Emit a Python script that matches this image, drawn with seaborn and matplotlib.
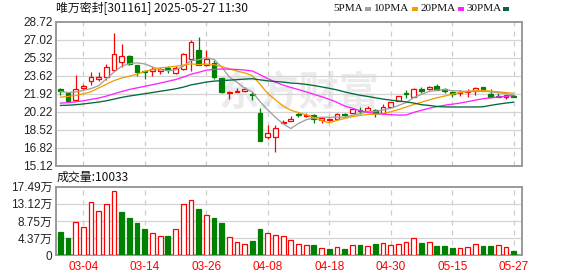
import matplotlib
matplotlib.use("Agg")
import matplotlib.pyplot as plt
import seaborn as sns
import numpy as np
import pandas as pd
from matplotlib.patches import Rectangle

sns.set_theme(style="white")
plt.rcParams['font.family'] = ['Liberation Sans', 'Noto Sans CJK SC', 'DejaVu Sans']

# ---------------- data ----------------
opens = [22.40, 21.93, 21.30, 22.46, 23.15, 23.34, 23.48, 24.12, 24.94, 25.43,
         24.59, 24.05, 24.05, 24.05, 24.34, 23.90, 24.28, 25.15, 26.06, 24.59,
         24.78, 23.37, 22.02, 22.08, 22.18, 21.84, 20.05, 17.80, 17.80, 19.11,
         19.36, 19.96, 19.80, 19.89, 19.42, 19.42, 19.52, 19.96, 20.05, 20.36,
         20.30, 20.36, 20.05, 20.67, 21.21, 21.99, 21.61, 22.31, 22.36, 22.68,
         22.31, 22.05, 21.99, 22.05, 22.12, 22.52, 21.87, 21.68, 21.56, 21.74]
highs = [22.46, 22.03, 23.65, 22.85, 23.95, 23.95, 24.75, 27.62, 26.65, 25.53,
         24.65, 24.12, 24.43, 24.31, 24.49, 24.56, 25.74, 27.03, 27.25, 26.00,
         25.12, 23.43, 22.21, 22.46, 22.50, 22.08, 20.52, 18.96, 18.96, 19.42,
         19.80, 20.20, 20.05, 19.96, 19.68, 19.62, 20.11, 20.11, 20.43, 20.61,
         20.74, 20.43, 20.93, 21.14, 21.68, 22.24, 22.46, 22.55, 22.62, 22.80,
         22.43, 22.12, 22.24, 22.31, 22.55, 22.52, 22.33, 21.93, 21.77, 21.80]
lows = [21.82, 21.18, 21.28, 22.28, 22.75, 23.10, 23.18, 24.03, 24.43, 24.62,
        23.58, 23.27, 23.62, 23.81, 23.90, 23.81, 24.18, 24.05, 24.59, 24.49,
        23.34, 22.02, 21.37, 22.08, 22.05, 21.30, 17.48, 17.61, 16.35, 19.11,
        19.36, 19.73, 19.68, 19.11, 19.17, 19.35, 19.42, 19.68, 20.05, 19.99,
        20.20, 19.73, 19.99, 20.67, 21.21, 21.52, 21.56, 21.99, 22.24, 22.28,
        21.99, 21.61, 21.68, 21.61, 21.80, 22.18, 21.61, 21.56, 21.43, 21.58]
closes = [22.15, 21.24, 22.40, 22.65, 23.53, 23.53, 24.47, 25.62, 25.43, 24.68,
          23.96, 23.93, 24.21, 24.21, 24.12, 24.37, 25.62, 26.84, 24.65, 25.15,
          23.49, 22.08, 22.08, 22.15, 22.33, 21.76, 17.48, 18.17, 18.64, 19.24,
          19.55, 19.89, 19.92, 19.49, 19.58, 19.52, 19.96, 19.89, 20.43, 20.30,
          20.52, 20.05, 20.61, 21.14, 21.68, 21.87, 22.40, 22.15, 22.50, 22.28,
          22.18, 21.87, 22.05, 22.18, 22.43, 22.18, 21.61, 21.61, 21.77, 21.61]
# volume in 万 (10k)
volumes = [5.89, 4.35, 8.37, 7.09, 13.5, 11.4, 13.0, 16.4, 11.0, 9.47,
           8.19, 6.66, 5.81, 4.87, 4.87, 6.58, 13.2, 14.0, 11.8, 10.2,
           9.47, 8.19, 4.79, 3.51, 2.78, 3.58, 6.66, 5.58, 5.30, 4.82,
           3.88, 2.87, 2.60, 2.60, 1.78, 1.60, 2.03, 1.60, 2.60, 2.60,
           2.28, 2.87, 3.04, 2.60, 2.87, 3.37, 4.30, 3.10, 3.37, 2.36,
           2.36, 1.85, 1.78, 2.03, 2.79, 2.36, 2.36, 2.60, 2.10, 1.0033]

# moving-average values before a full window is visible
ma5_head = [22.12, 22.02, 22.08, 22.22]
ma10_head = [21.58, 21.65, 21.75, 21.90, 22.10, 22.45, 22.80, 23.15, 23.40]
ma20_head = [21.02, 21.06, 21.14, 21.24, 21.37, 21.50, 21.68, 21.90, 22.12, 22.31,
             22.46, 22.61, 22.76, 22.92, 23.08, 23.25, 23.47, 23.75, 23.93]
ma30_head = [20.80, 20.82, 20.87, 20.94, 21.03, 21.12, 21.24, 21.40, 21.56, 21.69,
             21.80, 21.91, 22.02, 22.14, 22.25, 22.37, 22.53, 22.74, 22.87, 23.01,
             23.10, 23.15, 23.19, 23.24, 23.29, 23.33, 23.22, 23.13, 23.06]

date_tick_idx = [3, 11, 19, 27, 35, 43, 51, 59]
date_tick_labels = ["03-04", "03-14", "03-26", "04-08", "04-18", "04-30", "05-15", "05-27"]
price_ticks = [15.12, 16.82, 18.52, 20.22, 21.92, 23.62, 25.32, 27.02, 28.72]
vol_ticks = [0, 4.3725, 8.745, 13.1175, 17.49]
vol_tick_labels = ["0", "4.37万", "8.75万", "13.12万", "17.49万"]

title_text = "唯万密封[301161] 2025-05-27 11:30"
vol_title = "成交量:10033"
legend_names = ["5PMA", "10PMA", "20PMA", "30PMA"]
ma_windows = [5, 10, 20, 30]

# ---------------- style ----------------
RED = "#ff0000"
GREEN = "#008000"
MA_COLORS = ["#a0a0a0", "#f0a000", "#ff22ff", "#006a3a"]
GRID = "#d4d4d4"
SPINE = "#9a9a9a"

W, H = 578, 276
fig = plt.figure(figsize=(W / 100, H / 100), dpi=100)
fig.patch.set_facecolor("white")


def rect(l, t, r, b):
    return [l / W, 1 - b / H, (r - l) / W, (b - t) / H]


axp = fig.add_axes(rect(56, 21.7, 522, 165.5))
axv = fig.add_axes(rect(56, 186.7, 522, 255.3))

n = len(closes)
x = np.arange(n)
o = np.array(opens)
c = np.array(closes)
hi = np.array(highs)
lo = np.array(lows)
vol = np.array(volumes)

up = c >= o
col = np.where(up, RED, GREEN)
face = np.where(up, "white", GREEN)

# moving averages
cs = pd.Series(closes)
heads = [ma5_head, ma10_head, ma20_head, ma30_head]
for win, head, mc in zip(ma_windows, heads, MA_COLORS):
    m = cs.rolling(win).mean().to_numpy()
    m[:win - 1] = head
    sns.lineplot(x=x, y=m, ax=axp, color=mc, linewidth=0.95, zorder=4, legend=False)

# candles
axp.vlines(x, lo, hi, colors=col, linewidth=0.9, zorder=2)
body_h = np.maximum(np.abs(c - o), 0.015)
axp.bar(x, body_h, bottom=np.minimum(o, c), width=0.62, color=face,
        edgecolor=col, linewidth=0.9, zorder=3)

# watermark
axp.text(20.6, 21.9, "东方财富", fontsize=29, color="#ebebeb", ha="left", va="center",
         family=["Noto Sans CJK SC"], fontweight="bold", zorder=0.5)

# volume bars (colour by close vs previous close)
prev = np.concatenate([[o[0]], c[:-1]])
vup = c >= prev
vcol = np.where(vup, RED, GREEN)
vface = np.where(vup, "white", GREEN)
axv.bar(x, vol, width=0.62, color=vface, edgecolor=vcol, linewidth=0.9, zorder=3)

for ax in (axp, axv):
    ax.set_xlim(-0.55, 60.08)
    ax.set_facecolor("white")
    ax.set_xticks(date_tick_idx)
    ax.grid(False)
    for xi in date_tick_idx:
        ax.axvline(xi, color="#cccccc", linewidth=0.9, linestyle=(0, (4, 4)), zorder=1)
    for s in ax.spines.values():
        s.set_color(SPINE)
        s.set_linewidth(1.4)
        s.set_visible(True)
    ax.tick_params(axis="both", length=0, pad=2.5, labelsize=8.5, colors="#222222")
    ax.set_xlabel("")
    ax.set_ylabel("")

axp.set_ylim(15.12, 28.72)
axp.set_yticks(price_ticks)
axp.set_yticklabels([f"{t:.2f}" for t in price_ticks])
for t in price_ticks[1:-1]:
    axp.axhline(t, color=GRID, linewidth=0.9, zorder=1)
axp.set_xticklabels([])

axv.set_ylim(0, 17.49)
axv.set_yticks(vol_ticks)
axv.set_yticklabels(vol_tick_labels)
for t in vol_ticks[1:-1]:
    axv.axhline(t, color=GRID, linewidth=0.9, zorder=1)
axv.set_xticklabels(date_tick_labels)
axv.tick_params(axis="x", colors=RED, pad=4, labelsize=8.5)

# texts
fig.text(56 / W, 1 - 8.5 / H, title_text, ha="left", va="center", fontsize=8.6,
         color="#111111", family=["Noto Sans CJK SC", "DejaVu Sans"])
fig.text(57 / W, 1 - 177.5 / H, vol_title, ha="left", va="center", fontsize=8.6,
         color="#111111", family=["Noto Sans CJK SC", "DejaVu Sans"])

legend_right = [363, 409.7, 455.7, 501.3]
for name, xr, mc in zip(legend_names, legend_right, MA_COLORS):
    fig.text(xr / W, 1 - 8.5 / H, name, ha="right", va="center", fontsize=8,
             color="#111111", family=["Liberation Serif"])
    fig.patches.append(Rectangle(((xr + 2) / W, 1 - 10.5 / H), 6 / W, 3 / H,
                                 transform=fig.transFigure, facecolor=mc,
                                 edgecolor="none"))

fig.savefig("out.png", dpi=100, facecolor="white")
